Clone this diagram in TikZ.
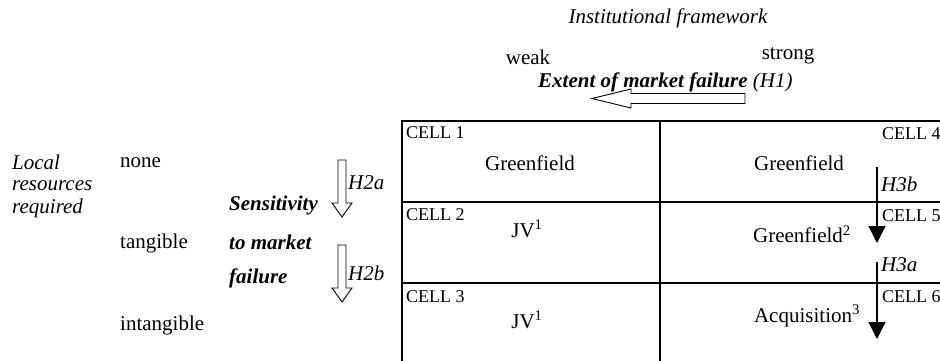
\documentclass[tikz,border=0pt]{standalone}
\usepackage{fontspec}
\setmainfont{Liberation Serif}
\usetikzlibrary{arrows.meta}
\tikzset{
  txt/.style={inner sep=0pt, font=\fontsize{21}{24}\selectfont},
  itxt/.style={inner sep=0pt, font=\fontsize{21}{24}\selectfont\itshape},
  btxt/.style={inner sep=0pt, font=\fontsize{21}{24}\selectfont\bfseries\itshape},
  celltxt/.style={inner sep=0pt, font=\fontsize{18}{20}\selectfont, anchor=west},
  gridline/.style={line width=1.6pt},
  gridvert/.style={line width=2pt},
  hollow/.style={draw, line width=0.9pt, fill=white},
  solidarrow/.style={line width=1.2pt, -{Triangle[width=17pt,length=17pt]}}
}
\begin{document}
\begin{tikzpicture}[x=1pt,y=-1pt]
\useasboundingbox (0,0) rectangle (940,360);
\clip (0,0) rectangle (940,360);
% header
\node[itxt] (inst) at (668,18) {Institutional framework};
\node[txt] (weak) at (528,57) {weak};
\node[txt] (strong) at (788,56) {strong};
\node[inner sep=0pt, anchor=west] (extent) at (538,82)
  {\fontsize{21}{24}\selectfont\bfseries\itshape Extent of market failure \mdseries(H1)};
% hollow left arrow
\path[hollow] (745,93.5) -- (631,93.5) -- (631,89) -- (592,98.5) -- (631,108)
  -- (631,103.5) -- (745,103.5) -- cycle;
% grid
\draw[gridline] (402,121) -- (945,121);
\draw[gridline] (402,202) -- (945,202);
\draw[gridline, line width=2.2pt] (402,283) -- (945,283);
\draw[gridvert] (402,120) -- (402,365);
\draw[gridvert] (660,120) -- (660,365);
% left labels
\node[itxt, anchor=west] (local) at (12,162) {Local};
\node[itxt, anchor=west] (res) at (12,186) {resources};
\node[itxt, anchor=west] (req) at (12,208) {required};
\node[txt, anchor=west] (none) at (120,163) {none};
\node[txt, anchor=west] (tang) at (120,243) {tangible};
\node[txt, anchor=west] (intang) at (120,325) {intangible};
\node[btxt, anchor=west] (sens) at (229,205) {Sensitivity};
\node[btxt, anchor=west] (tomkt) at (229,242) {to market};
\node[btxt, anchor=west] (fail) at (229,278) {failure};
% hollow down arrows
\path[hollow] (338,160) -- (346,160) -- (346,203) -- (352,203) -- (342,217)
  -- (332,203) -- (338,203) -- cycle;
\path[hollow] (338,245) -- (346,245) -- (346,288) -- (352,288) -- (342,302)
  -- (332,288) -- (338,288) -- cycle;
\node[itxt, anchor=west] (h2a) at (348,183) {H2a};
\node[itxt, anchor=west] (h2b) at (348,273) {H2b};
% cells left column
\node[celltxt] (c1) at (406,133) {CELL 1};
\node[txt] (g1) at (530,163) {Greenfield};
\node[celltxt] (c2) at (406,215) {CELL 2};
\node[txt] (jv1) at (527,229) {JV\textsuperscript{1}};
\node[celltxt] (c3) at (406,297) {CELL 3};
\node[txt] (jv2) at (527,320) {JV\textsuperscript{1}};
% cells right column
\node[celltxt] (c4) at (882,134) {CELL 4};
\node[txt] (g4) at (799,163) {Greenfield};
\node[celltxt] (c5) at (882,216) {CELL 5};
\node[txt] (g5) at (802,234) {Greenfield\textsuperscript{2}};
\node[celltxt] (c6) at (882,297) {CELL 6};
\node[txt] (acq) at (807,316) {Acquisition\textsuperscript{3}};
% solid arrows
\coordinate (h3bs) at (877,167);
\coordinate (h3be) at (877,243);
\coordinate (h3as) at (877,262);
\coordinate (h3ae) at (877,339);
\draw[solidarrow] (h3bs) -- (h3be);
\draw[solidarrow] (h3as) -- (h3ae);
\node[itxt, anchor=west] (h3b) at (881,184) {H3b};
\node[itxt, anchor=west] (h3a) at (881,265) {H3a};
\end{tikzpicture}
\end{document}
